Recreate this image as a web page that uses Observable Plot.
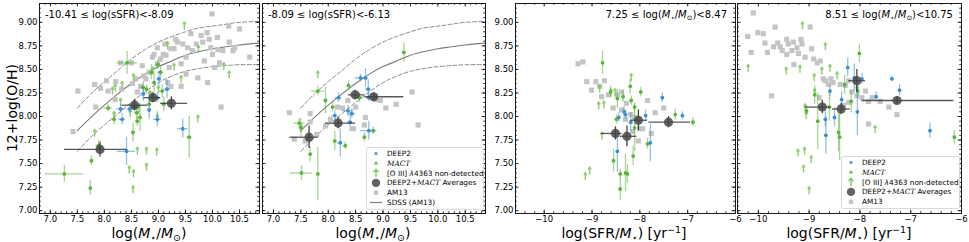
<!DOCTYPE html>
<html><head><meta charset="utf-8">
<script src="https://cdn.jsdelivr.net/npm/d3@7"></script>
<script src="https://cdn.jsdelivr.net/npm/@observablehq/plot@0.6"></script>
<style>
body{margin:0;background:#fff;font-family:"DejaVu Sans",sans-serif;}
#fig{position:relative;width:969px;height:242px;overflow:hidden;background:#fff;}
#fig svg.pp{position:absolute;top:0;overflow:visible;}
.t{position:absolute;white-space:nowrap;color:#000;line-height:1;}
.ann{font-size:10px;}
.xt{font-size:14px;transform:translateX(-50%);}
.m{font-style:italic;}
sub,sup{font-size:0.68em;line-height:0;}
sub{vertical-align:-0.3em;} sup{vertical-align:0.55em;}
</style></head><body><div id="fig"></div>
<script>
// ---------- data ----------
const curveMass = [7.5,7.75,8.0,8.25,8.5,8.75,9.0,9.25,9.5,9.75,10.0,10.25,10.5,10.87];
const sdssMid   = [7.85,7.99,8.12,8.24,8.35,8.45,8.53,8.59,8.65,8.69,8.72,8.74,8.76,8.78];
const sdssUp    = [8.09,8.24,8.37,8.49,8.61,8.71,8.79,8.85,8.90,8.94,8.96,8.98,9.00,9.01];
const sdssLo    = [7.63,7.78,7.91,8.03,8.15,8.26,8.36,8.43,8.48,8.51,8.53,8.54,8.55,8.55];

const p1AM13 = [[7.42,7.84],[7.51,8.27],[7.82,8.34],[7.84,8.10],[7.93,8.30],[8.04,8.38],[8.07,8.27],[8.21,8.37],[8.20,8.18],[8.30,8.57],[8.32,8.29],[8.50,8.57],[8.58,8.40],[8.61,8.26],[8.67,8.32],[8.70,8.54],[8.73,8.43],[8.83,8.47],[8.89,8.63],[8.92,8.66],[8.98,8.73],[9.04,8.61],[9.09,8.66],[9.12,8.77],[9.14,8.65],[9.20,8.52],[9.23,8.72],[9.29,8.72],[9.32,8.82],[9.35,8.79],[9.42,8.56],[9.45,8.77],[9.51,8.63],[9.54,8.73],[9.60,8.88],[9.63,8.70],[9.70,8.77],[9.73,8.41],[9.79,8.86],[9.82,8.79],[9.85,8.59],[9.90,8.89],[9.91,8.36],[9.94,8.82],[9.97,8.73],[9.99,9.09],[10.00,8.66],[10.04,8.52],[10.09,8.84],[10.10,8.71],[10.13,8.57],[10.16,8.10],[10.19,8.70],[10.30,8.96],[10.31,8.79],[10.38,8.70],[10.41,8.73],[10.50,8.93],[10.69,8.63],[8.77,8.40],[8.86,8.24],[8.52,8.35],[9.17,8.36],[9.42,8.32],[9.51,8.45],[8.98,8.56],[9.23,8.32]];
const p1Green = [[7.26,7.39,0.36,0.09],[8.42,8.57,0.19,0.12],[7.74,7.24,0.02,0.08],[7.76,7.53,0.02,0.05],[7.89,7.69,0.05,0.06],[8.07,8.09,0.08,0.04],[8.18,7.97,0.03,0.06],[8.53,7.83,0.03,0.10],[8.60,8.04,0.05,0.08],[8.61,7.95,0.03,0.05],[8.72,8.31,0.05,0.06],[8.78,8.29,0.04,0.05],[8.83,8.13,0.04,0.06],[8.87,8.47,0.05,0.08],[8.92,8.36,0.04,0.10],[9.04,8.47,0.05,0.06],[9.07,8.27,0.05,0.07],[9.10,8.13,0.04,0.08],[9.57,7.78,0.05,0.22],[8.99,8.55,0.05,0.05],[8.66,7.99,0.03,0.15]];
const p1Arrows = [[9.48,8.93],[9.17,8.72],[9.29,8.49],[9.42,8.36],[9.73,7.94],[9.74,8.68],[10.21,8.50],[10.31,8.41],[8.15,8.24],[8.20,8.27],[8.33,8.30],[8.54,8.38],[8.30,8.12],[8.48,8.00],[8.61,7.60],[8.78,7.60],[8.46,7.40],[8.54,7.36],[8.53,7.19],[8.78,7.43],[8.97,7.59],[7.82,7.79],[8.18,7.98],[8.64,8.05],[8.84,8.20],[8.98,7.95],[9.00,8.25],[8.90,8.45]];
const p1Blue = [[8.41,7.63,0.17,0.15],[8.30,8.08,0.08,0.05],[8.47,8.08,0.06,0.05],[8.33,7.97,0.06,0.06],[8.55,8.10,0.05,0.04],[8.98,8.20,0.06,0.05],[9.01,8.40,0.05,0.08],[9.16,8.29,0.06,0.10],[8.98,7.97,0.07,0.08],[9.45,7.87,0.10,0.10],[8.72,8.24,0.05,0.08],[8.83,8.07,0.04,0.10]];
const p1Avg = [[7.92,7.65,7.26,8.43,0.08],[8.56,8.12,8.33,8.80,0.06],[8.90,8.20,8.73,9.04,0.05],[9.24,8.14,9.04,9.54,0.07]];

const p2AM13 = [[7.29,8.04],[7.38,7.76],[7.58,7.74],[7.67,8.03],[7.67,7.94],[7.79,7.81],[8.04,7.97],[8.17,8.10],[8.26,8.09],[8.36,8.17],[8.46,7.87],[8.66,7.91],[8.68,7.99],[8.86,8.18],[8.95,8.17],[9.05,8.09],[9.24,8.13],[9.53,8.26],[9.64,7.91],[8.50,8.10],[7.95,7.90]];
const p2Green = [[7.51,7.40,0.20,0.08],[7.47,7.93,0.10,0.05],[7.50,7.88,0.03,0.10],[7.67,7.60,0.02,0.08],[7.81,7.39,0.02,0.28],[7.81,8.27,0.12,0.05],[7.95,8.17,0.03,0.14],[8.08,8.10,0.03,0.05],[8.12,7.74,0.03,0.10],[8.31,7.69,0.04,0.04],[8.37,8.33,0.03,0.05],[8.57,8.20,0.05,0.05],[8.66,7.78,0.03,0.05],[8.82,7.85,0.03,0.04],[9.38,8.68,0.02,0.10]];
const p2Arrows = [[7.81,8.41],[7.51,7.84]];
const p2Blue = [[8.19,8.20,0.06,0.05],[8.12,8.01,0.05,0.05],[8.43,8.03,0.07,0.05],[8.36,8.06,0.10,0.06],[8.40,7.94,0.05,0.10],[8.22,7.72,0.05,0.15],[8.59,8.41,0.10,0.04],[8.68,8.41,0.06,0.10],[8.73,8.29,0.05,0.10],[8.74,8.20,0.04,0.04],[8.74,7.85,0.15,0.10]];
const p2Avg = [[7.65,7.78,7.30,7.82,0.12],[8.18,7.93,7.95,8.50,0.06],[8.49,8.23,8.37,8.67,0.05],[8.83,8.21,8.67,9.38,0.04]];

const p3AM13 = [[-9.29,8.56],[-9.19,8.58],[-9.11,8.37],[-9.01,8.28],[-8.92,8.37],[-8.84,8.32],[-8.74,8.38],[-8.56,8.09],[-8.47,8.23],[-8.38,8.26],[-8.38,8.07],[-8.28,8.14],[-8.19,8.02],[-8.11,7.99],[-8.00,7.87],[-8.03,7.74],[-7.94,7.87],[-7.84,8.17],[-7.68,8.04],[-7.50,8.09],[-7.76,7.82],[-8.66,8.23],[-8.30,7.97],[-8.15,7.84],[-8.80,8.21]];
const p3Green = [[-8.78,8.57,0.02,0.12],[-8.61,8.26,0.02,0.06],[-8.47,8.19,0.02,0.10],[-8.49,7.97,0.02,0.05],[-8.55,7.53,0.02,0.12],[-8.41,7.39,0.02,0.05],[-8.41,7.23,0.02,0.12],[-8.30,7.40,0.02,0.20],[-8.26,7.39,0.02,0.10],[-8.20,8.32,0.02,0.08],[-8.18,8.17,0.02,0.05],[-8.11,8.10,0.02,0.05],[-8.11,7.88,0.02,0.25],[-8.14,7.58,0.02,0.10],[-7.98,8.26,0.02,0.05],[-7.84,7.71,0.02,0.06],[-7.26,8.02,0.02,0.06],[-6.89,7.94,0.02,0.05],[-8.35,8.21,0.02,0.06]];
const p3Arrows = [[-9.14,7.33],[-9.05,7.39],[-8.79,7.76],[-8.86,8.08],[-8.75,8.09],[-8.84,8.26],[-8.61,8.22],[-8.18,8.38],[-8.52,8.22]];
const p3Blue = [[-8.44,7.99,0.02,0.05],[-8.33,8.05,0.02,0.05],[-8.30,8.02,0.02,0.05],[-8.47,7.63,0.02,0.22],[-8.19,7.94,0.02,0.10],[-7.88,8.01,0.02,0.06],[-7.78,7.72,0.02,0.20],[-7.53,8.20,0.02,0.05],[-7.11,8.01,0.02,0.04]];
const p3Avg = [[-8.51,7.82,-8.81,-8.37,0.07],[-8.27,7.79,-8.41,-8.06,0.11],[-8.03,7.96,-8.19,-7.84,0.11],[-7.40,7.94,-7.81,-6.94,0.06]];

const p4AM13 = [[-10.10,9.10],[-10.21,8.85],[-10.14,8.68],[-10.01,8.89],[-9.90,8.88],[-9.87,8.78],[-9.82,8.68],[-9.70,8.74],[-9.67,8.95],[-9.62,8.78],[-9.57,8.74],[-9.53,8.70],[-9.44,8.82],[-9.44,8.66],[-9.41,8.77],[-9.34,8.70],[-9.31,8.79],[-9.24,8.73],[-9.21,8.67],[-9.16,8.82],[-9.14,8.77],[-9.08,8.63],[-8.98,8.95],[-8.95,8.72],[-8.91,8.61],[-8.84,8.57],[-8.78,8.59],[-9.74,8.22],[-8.72,8.40],[-8.68,8.38],[-8.62,8.34],[-8.57,8.40],[-8.53,8.36],[-8.39,8.34],[-8.29,8.33],[-8.22,8.38],[-8.16,8.26],[-8.06,8.22],[-7.96,8.20],[-7.89,8.27],[-7.83,8.16],[-7.76,8.20],[-7.60,8.16],[-7.43,8.10],[-7.27,8.02],[-7.83,7.92],[-8.32,8.12],[-8.22,8.15],[-8.80,8.20],[-9.30,8.55]];
const p4Green = [[-8.89,8.23,0.02,0.10],[-9.05,8.06,0.02,0.05],[-8.01,8.67,0.02,0.10],[-8.42,7.83,0.02,0.20],[-8.04,8.27,0.02,0.06],[-8.17,8.16,0.02,0.12],[-8.30,8.34,0.02,0.10],[-6.14,7.78,0.02,0.07],[-8.60,8.10,0.02,0.15],[-8.40,7.78,0.02,0.25],[-8.83,7.95,0.02,0.30]];
const p4Arrows = [[-10.20,8.48],[-9.13,8.93],[-8.68,8.71],[-9.18,8.47],[-9.45,8.45],[-8.75,8.45],[-8.59,8.48],[-8.90,8.38],[-9.08,8.06],[-9.06,7.98],[-8.89,8.22],[-9.22,7.58],[-9.09,7.60],[-9.11,7.41],[-8.96,7.51],[-9.00,7.18],[-7.70,7.83],[-8.06,8.25],[-8.45,8.40]];
const p4Blue = [[-8.24,8.52,0.02,0.10],[-8.11,8.41,0.02,0.15],[-7.96,8.40,0.02,0.06],[-8.59,8.27,0.02,0.06],[-8.36,8.18,0.02,0.08],[-8.68,7.97,0.02,0.08],[-8.50,7.99,0.02,0.10],[-8.67,7.80,0.02,0.20],[-7.68,8.21,0.02,0.05],[-7.37,8.40,0.02,0.03],[-7.22,8.28,0.02,0.06],[-6.62,7.85,0.02,0.08],[-8.05,8.05,0.02,0.25]];
const p4Avg = [[-8.74,8.10,-9.08,-8.57,0.07],[-8.37,8.08,-8.54,-8.19,0.06],[-8.06,8.38,-8.22,-7.89,0.12],[-7.27,8.17,-7.96,-6.15,0.04]];

const yTicks = [7.00,7.25,7.50,7.75,8.00,8.25,8.50,8.75,9.00];
const massTicks = [7.0,7.5,8.0,8.5,9.0,9.5,10.0,10.5];
const ssfrTicks = [-10,-9,-8,-7,-6];

// ---------- style ----------
const BLUE = "#3b8fd0", GREEN = "#5cb43a", ARROW = "#7cc55a", AVG = "#474747", AM = "#c4c4c4";
const H = 242, MT = 3, MB = 29, YDOM = [6.97, 9.2];

function panel(c) {
  const fw = c.width - c.mL - c.mR, fh = H - MT - MB;
  const X = d => d[0], Y = d => d[1];
  const yMinor = d3.range(0, 45).map(i => 7 + i * 0.05);
  const xMinor = d3.range(Math.ceil(c.xDom[0] / c.xMinStep), Math.floor(c.xDom[1] / c.xMinStep) + 1).map(i => i * c.xMinStep);
  const marks = [];
  if (c.curves) {
    const pts = curveMass.map((m, i) => ({m, mid: sdssMid[i], up: sdssUp[i], lo: sdssLo[i]}));
    marks.push(Plot.line(pts, {x: "m", y: "up", stroke: "#8c8c8c", strokeWidth: 1, strokeDasharray: "4,2.2", curve: "natural", clip: true}));
    marks.push(Plot.line(pts, {x: "m", y: "lo", stroke: "#8c8c8c", strokeWidth: 1, strokeDasharray: "4,2.2", curve: "natural", clip: true}));
    marks.push(Plot.line(pts, {x: "m", y: "mid", stroke: "#7a7a7a", strokeWidth: 1.1, curve: "natural", clip: true}));
  }
  marks.push(Plot.dot(c.am13, {x: X, y: Y, symbol: "square", r: 2.9, fill: AM, clip: true}));
  marks.push(Plot.arrow(c.arrows, {x1: X, x2: X, y1: Y, y2: d => d[1] + 0.075, stroke: ARROW, strokeWidth: 1.4, headLength: 4.5, strokeOpacity: 0.85, clip: true}));
  for (const [data, col] of [[c.green, GREEN], [c.blue, BLUE]]) {
    marks.push(Plot.ruleX(data, {x: X, y1: d => d[1] - d[3], y2: d => d[1] + d[3], stroke: col, strokeOpacity: 0.55, strokeWidth: 1.3, clip: true}));
    marks.push(Plot.ruleY(data, {y: Y, x1: d => d[0] - d[2], x2: d => d[0] + d[2], stroke: col, strokeOpacity: 0.55, strokeWidth: 1.3, clip: true}));
    marks.push(Plot.dot(data, {x: X, y: Y, r: 1.9, fill: col, clip: true}));
  }
  marks.push(Plot.ruleY(c.avg, {y: Y, x1: d => d[2], x2: d => d[3], stroke: "#3a3a3a", strokeWidth: 1.3, strokeOpacity: 0.85, clip: true}));
  marks.push(Plot.ruleX(c.avg, {x: X, y1: d => d[1] - d[4], y2: d => d[1] + d[4], stroke: "#222", strokeWidth: 1.3, strokeOpacity: 0.85, clip: true}));
  marks.push(Plot.dot(c.avg, {x: X, y: Y, r: 4.6, fill: AVG, fillOpacity: 0.85, clip: true}));
  const tk = {stroke: "#000", strokeWidth: 0.8};
  const xMaj = c.xTicks.filter(v => v >= c.xDom[0] && v <= c.xDom[1]);
  marks.push(Plot.tickX(xMaj, {x: d => d, insetTop: fh - 3.5, ...tk}));
  marks.push(Plot.tickX(xMaj, {x: d => d, insetBottom: fh - 3.5, ...tk}));
  marks.push(Plot.tickX(xMinor, {x: d => d, insetTop: fh - 1.8, ...tk}));
  marks.push(Plot.tickX(xMinor, {x: d => d, insetBottom: fh - 1.8, ...tk}));
  marks.push(Plot.tickY(yTicks, {y: d => d, insetRight: fw - 3.5, ...tk}));
  marks.push(Plot.tickY(yTicks, {y: d => d, insetLeft: fw - 3.5, ...tk}));
  marks.push(Plot.tickY(yMinor, {y: d => d, insetRight: fw - 1.8, ...tk}));
  marks.push(Plot.tickY(yMinor, {y: d => d, insetLeft: fw - 1.8, ...tk}));
  marks.push(Plot.frame({stroke: "#1a1a1a", strokeWidth: 1}));
  marks.push(Plot.axisX(c.xTicks, {tickSize: 0, tickPadding: 2, tickFormat: c.xFmt, fontSize: 8.5, label: null}));
  if (c.showY) marks.push(Plot.axisY(yTicks, {tickSize: 0, tickPadding: 2, tickFormat: d3.format(".2f"), fontSize: 8.5, label: null}));
  const svg = Plot.plot({
    width: c.width, height: H, marginTop: MT, marginBottom: MB, marginLeft: c.mL, marginRight: c.mR,
    x: {domain: c.xDom, axis: null, label: null}, y: {domain: YDOM, axis: null, label: null},
    style: {fontFamily: "DejaVu Sans, sans-serif", fontSize: "8.5px", color: "#000", background: "transparent", overflow: "visible"},
    marks
  });
  svg.classList.add("pp");
  svg.style.left = c.left + "px";
  return svg;
}

const fig = document.getElementById("fig");
const massFmt = d3.format(".1f"), ssfrFmt = d3.format("d");
fig.appendChild(panel({left: 0, width: 260, mL: 39, mR: 1, xDom: [6.8, 10.87], xTicks: massTicks, xMinStep: 0.1, xFmt: massFmt, showY: true, curves: true, am13: p1AM13, green: p1Green, arrows: p1Arrows, blue: p1Blue, avg: p1Avg}));
fig.appendChild(panel({left: 261, width: 225, mL: 1, mR: 1, xDom: [6.8, 10.87], xTicks: massTicks, xMinStep: 0.1, xFmt: massFmt, showY: false, curves: true, am13: p2AM13, green: p2Green, arrows: p2Arrows, blue: p2Blue, avg: p2Avg}));
fig.appendChild(panel({left: 487, width: 249, mL: 28, mR: 1, xDom: [-10.6, -6], xTicks: ssfrTicks, xMinStep: 0.2, xFmt: ssfrFmt, showY: true, curves: false, am13: p3AM13, green: p3Green, arrows: p3Arrows, blue: p3Blue, avg: p3Avg}));
fig.appendChild(panel({left: 736, width: 226, mL: 1, mR: 1, xDom: [-10.41, -6], xTicks: ssfrTicks, xMinStep: 0.2, xFmt: ssfrFmt, showY: false, curves: false, am13: p4AM13, green: p4Green, arrows: p4Arrows, blue: p4Blue, avg: p4Avg}));

// ---------- text ----------
const massLbl = 'log(<span class="m">M</span><sub>⋆</sub>/<span class="m">M</span><sub>⊙</sub>)';
const ssfrLbl = 'log(SFR/<span class="m">M</span><sub>⋆</sub>) [yr<sup>−1</sup>]';
const texts = [
  {cls: "t ann", style: "left:45px;top:10px", html: "-10.41 ≤ log(sSFR)&lt;-8.09"},
  {cls: "t ann", style: "left:268px;top:10px", html: "-8.09 ≤ log(sSFR)&lt;-6.13"},
  {cls: "t ann", style: "right:242px;top:10px", html: '7.25 ≤ log(<span class="m">M</span><sub>⋆</sub>/<span class="m">M</span><sub>⊙</sub>)&lt;8.47'},
  {cls: "t ann", style: "right:16px;top:10px", html: '8.51 ≤ log(<span class="m">M</span><sub>⋆</sub>/<span class="m">M</span><sub>⊙</sub>)&lt;10.75'},
  {cls: "t xt", style: "left:149px;top:226px", html: massLbl},
  {cls: "t xt", style: "left:373px;top:226px", html: massLbl},
  {cls: "t xt", style: "left:624px;top:226px", html: ssfrLbl},
  {cls: "t xt", style: "left:849px;top:226px", html: ssfrLbl},
  {cls: "t", style: "left:12px;top:108px;font-size:14px;transform:translate(-50%,-50%) rotate(-90deg)", html: "12+log(O/H)"}
];
for (const t of texts) {
  const el = document.createElement("div");
  el.className = t.cls; el.setAttribute("style", t.style); el.innerHTML = t.html;
  fig.appendChild(el);
}

// ---------- legends ----------
const legendRows = [
  {type: "blue", label: "DEEP2"},
  {type: "green", label: '<tspan font-family="DejaVu Serif" font-style="italic">MACT</tspan>'},
  {type: "arrow", label: '[O III] <tspan font-style="italic">λ</tspan>4363 non-detected'},
  {type: "avg", label: 'DEEP2+<tspan font-family="DejaVu Serif" font-style="italic">MACT</tspan> Averages'},
  {type: "am13", label: "AM13"},
  {type: "line", label: "SDSS (AM13)"}
];
function legend(x, y, w, rows) {
  const rh = 9.8, h = rows.length * rh + 4;
  const mx = 10, tx = 21;
  let s = `<svg xmlns="http://www.w3.org/2000/svg" width="${w}" height="${h}" style="position:absolute;left:${x}px;top:${y}px;overflow:visible" font-family="DejaVu Sans, sans-serif" font-size="7.3px">`;
  s += `<rect x="0.5" y="0.5" width="${w - 1}" height="${h - 1}" rx="2" fill="#fff" fill-opacity="0.85" stroke="#cfcfcf" stroke-width="0.8"/>`;
  rows.forEach((r, i) => {
    const cy = 6.5 + i * rh;
    if (r.type === "blue") s += `<circle cx="${mx}" cy="${cy}" r="1.7" fill="${BLUE}" fill-opacity="0.8"/>`;
    if (r.type === "green") s += `<circle cx="${mx}" cy="${cy}" r="1.7" fill="${GREEN}" fill-opacity="0.8"/>`;
    if (r.type === "arrow") s += `<path d="M${mx},${cy + 4}V${cy - 3.5}M${mx - 2.5},${cy - 1}L${mx},${cy - 3.8}L${mx + 2.5},${cy - 1}" stroke="${ARROW}" stroke-width="1.4" fill="none"/>`;
    if (r.type === "avg") s += `<circle cx="${mx}" cy="${cy}" r="4.2" fill="${AVG}" fill-opacity="0.85"/>`;
    if (r.type === "am13") s += `<rect x="${mx - 2.2}" y="${cy - 2.2}" width="4.4" height="4.4" fill="${AM}"/>`;
    if (r.type === "line") s += `<line x1="${mx - 6}" x2="${mx + 6}" y1="${cy}" y2="${cy}" stroke="#7a7a7a" stroke-width="1.1"/>`;
    s += `<text x="${tx}" y="${cy}" dy="0.35em" fill="#000">${r.label}</text>`;
  });
  s += "</svg>";
  const d = document.createElement("div");
  d.innerHTML = s;
  fig.appendChild(d.firstChild);
}
legend(366, 147, 118, legendRows);
legend(841, 156, 119, legendRows.slice(0, 5));
</script></body></html>
